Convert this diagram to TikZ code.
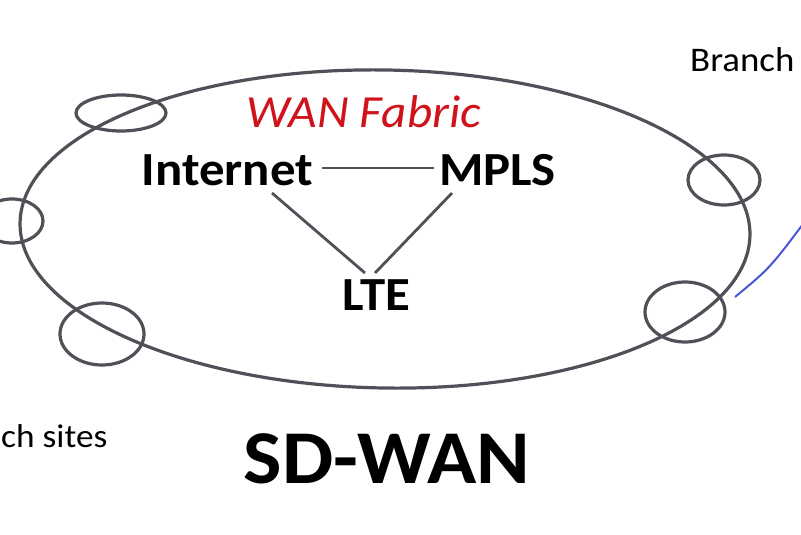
\documentclass[tikz,border=0pt]{standalone}
\usepackage{fontspec}
\setmainfont{Carlito}[FakeStretch=1.07]
\usepackage{tikz}
\usepackage{xcolor}
\usetikzlibrary{positioning, calc}
\definecolor{ringgray}{HTML}{505058}
\definecolor{fabricred}{HTML}{D0121B}
\definecolor{linkblue}{HTML}{4A55D8}

\begin{document}
\begin{tikzpicture}[x=1pt,y=-1pt,
    ring/.style={draw=ringgray, line width=3.2pt},
    link/.style={draw=ringgray, line width=2.8pt},
    tech/.style={inner sep=0pt, anchor=base, font=\fontsize{47.5}{50}\selectfont\bfseries},
    site/.style={inner sep=0pt, font=\fontsize{34.5}{36}\selectfont}]
    \useasboundingbox (0,0) rectangle (801,535);
    % fabric ring and the sites on it
    \draw[ring, rotate around={-1:(385,229)}] (385,229) ellipse [x radius=365, y radius=159];
    \foreach \cx/\cy/\rx/\ry in {121/113/45/18, 12/221/31/22, 102/334/42/31, 724/180/36/25, 685/312/40/30}
        \draw[ring] (\cx,\cy) ellipse [x radius=\rx, y radius=\ry];
    % transports
    \node[inner sep=0pt, anchor=base, text=fabricred, font=\fontsize{46}{48}\selectfont\itshape] (fabric) at (364,127) {WAN Fabric};
    \node[tech] (inet) at (227.5,185) {Internet};
    \node[tech] (mpls) at (497.5,185) {MPLS};
    \node[tech] (lte) at (376.5,310) {LTE};
    \draw[link] ([shift={(9,-17)}]inet.base east) -- ([shift={(-5,-17)}]mpls.base west);
    \draw[link] ([shift={(44.5,8)}]inet.base) -- ([shift={(-11.5,-37)}]lte.base);
    \draw[link] ([shift={(-45.5,8)}]mpls.base) -- ([shift={(-1.5,-37)}]lte.base);
    % labels
    \node[site, anchor=base west] (branch) at (690,72) {Branch};
    \node[site, anchor=base west, font=\fontsize{33}{35}\selectfont] (sites) at (1,447) {ch sites};
    \node[inner sep=0pt, anchor=base, font=\fontsize{76}{80}\selectfont\bfseries] (sdwan) at (387,483) {SD-WAN};
    % link leaving the ring
    \coordinate (tail) at (735,297);
    \coordinate (head) at (806,220);
    \draw[linkblue, line width=2pt] (tail) .. controls (770,268) .. (head);
\end{tikzpicture}
\end{document}
